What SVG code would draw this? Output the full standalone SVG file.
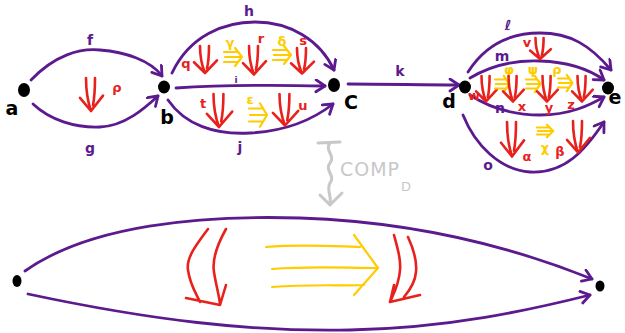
<svg xmlns="http://www.w3.org/2000/svg" xmlns:xlink="http://www.w3.org/1999/xlink" width="625" height="333" viewBox="0 0 625 333">
<style>
.e{fill:none;stroke:#5b1a8e;stroke-width:2.8;stroke-linecap:round;stroke-linejoin:round}
.r{fill:none;stroke:#e8211c;stroke-width:2.6;stroke-linecap:round;stroke-linejoin:round}
.y{fill:none;stroke:#ffcc00;stroke-width:2.2;stroke-linecap:round;stroke-linejoin:round}
.g{fill:none;stroke:#c8c8c8;stroke-width:3;stroke-linecap:round;stroke-linejoin:round}
.n{fill:#000}
text{font-family:"DejaVu Sans","Liberation Sans",sans-serif;text-anchor:middle}
.tn{font-size:19px;font-weight:bold;fill:#000}
.tp{font-size:14px;font-weight:bold;fill:#5b1a8e}
.tr{font-size:13px;font-weight:bold;fill:#e8211c}
.ty{font-size:13px;font-weight:bold;fill:#ffcc00}
</style>
<defs>
<marker id="ap" markerWidth="16" markerHeight="16" refX="11" refY="7" orient="auto" markerUnits="userSpaceOnUse">
<path d="M2,1 L11,7 L2,13" fill="none" stroke="#5b1a8e" stroke-width="2.8" stroke-linecap="round" stroke-linejoin="round"/>
</marker>
<g id="dbl">
<path class="r" vector-effect="non-scaling-stroke" d="M-5,0 C-5,12 -3,22 0,30 M4,0 C4,12 3,20 2,25 M-11,18 L0,30 L12,16"/>
</g>
<g id="tri">
<path class="y" vector-effect="non-scaling-stroke" d="M0,-5 L14,-5 M1,0 L17,0 M0,5 L14,5 M11,-9 L18,0 L11,9"/>
</g>
</defs>

<g id="connectors">
<path class="e" marker-end="url(#ap)" d="M31,80 C55,55 80,48 100,50 C125,52 150,60 162,76"/>
<path class="e" marker-end="url(#ap)" d="M33,104 C50,120 75,128 100,127 C125,126 145,108 158,96"/>
<path class="e" marker-end="url(#ap)" d="M172,73 C190,35 225,22 255,22 C290,22 320,40 334,70"/>
<path class="e" marker-end="url(#ap)" d="M176,88 C220,85 280,85 325,86"/>
<path class="e" marker-end="url(#ap)" d="M168,100 C185,125 215,135 250,133 C290,131 315,118 333,104"/>
<path class="e" marker-end="url(#ap)" d="M348,84 C390,84 420,85 459,85"/>
<path class="e" marker-end="url(#ap)" d="M468,72 C485,45 510,33 540,33 C570,33 590,45 611,70"/>
<path class="e" marker-end="url(#ap)" d="M470,78 C490,66 515,60 540,61 C570,62 590,70 604,80"/>
<path class="e" marker-end="url(#ap)" d="M470,95 C490,108 515,115 540,115 C570,115 590,105 604,97"/>
<path class="e" marker-end="url(#ap)" d="M463,115 C475,145 500,170 530,172 C565,174 585,150 604,122"/>
<path class="e" marker-end="url(#ap)" d="M25,271 C90,225 200,215 300,218 C420,222 520,250 592,279"/>
<path class="e" marker-end="url(#ap)" d="M28,294 C150,320 250,332 350,330 C450,328 530,310 590,295"/>
<text class="tp" x="90" y="45">f</text>
<text class="tp" x="90" y="153">g</text>
<text class="tp" x="249" y="16">h</text>
<text class="tp" x="236" y="83" style="font-size:9px">i</text>
<text class="tp" x="240" y="152">j</text>
<text class="tp" x="400" y="76">k</text>
<text class="tp" x="508" y="30">ℓ</text>
<text class="tp" x="502" y="61">m</text>
<text class="tp" x="500" y="113">n</text>
<text class="tp" x="488" y="170">o</text>
</g>

<g id="cells">
<use href="#dbl" transform="translate(91,78) scale(1,1.1)"/>
<text class="tr" x="117" y="92">ρ</text>

<text class="tr" x="186" y="68">q</text>
<use href="#dbl" transform="translate(205,46) scale(1,0.9)"/>
<use href="#tri" transform="translate(224,57)"/>
<text class="ty" x="230" y="47">γ</text>
<use href="#dbl" transform="translate(254,46) scale(1,0.95)"/>
<text class="tr" x="261" y="43">r</text>
<use href="#tri" transform="translate(273,55)"/>
<text class="ty" x="282" y="46">δ</text>
<use href="#dbl" transform="translate(302,48) scale(1,0.85)"/>
<text class="tr" x="303" y="45">s</text>

<text class="tr" x="203" y="108">t</text>
<use href="#dbl" transform="translate(219,94) scale(1.1,1.1)"/>
<use href="#tri" transform="translate(249,115) scale(1,1.3)"/>
<text class="ty" x="250" y="104">ε</text>
<use href="#dbl" transform="translate(285,94) scale(1.1,1.05)"/>
<text class="tr" x="303" y="110">u</text>

<use href="#dbl" transform="translate(540,38) scale(0.9,0.7)"/>
<text class="tr" x="527" y="47">v</text>
<use href="#dbl" transform="translate(486,76) scale(0.9,0.85)"/>
<text class="tr" x="474" y="100">w</text>
<use href="#tri" transform="translate(495,84) scale(0.8,0.9)"/>
<text class="ty" x="509" y="74">φ</text>
<use href="#dbl" transform="translate(513,76) scale(0.9,0.85)"/>
<text class="tr" x="522" y="111">x</text>
<use href="#tri" transform="translate(526,84) scale(0.8,0.9)"/>
<text class="ty" x="533" y="74">ψ</text>
<use href="#dbl" transform="translate(547,76) scale(0.9,0.85)"/>
<text class="tr" x="549" y="112">y</text>
<use href="#tri" transform="translate(558,83) scale(0.8,0.9)"/>
<text class="ty" x="557" y="74">ρ</text>
<use href="#dbl" transform="translate(582,76) scale(0.9,0.85)"/>
<text class="tr" x="571" y="109">z</text>

<use href="#dbl" transform="translate(512,122) scale(1,1.15)"/>
<text class="tr" x="527" y="161">α</text>
<use href="#tri" transform="translate(537,131) scale(0.9,0.7)"/>
<text class="ty" x="545" y="152">χ</text>
<text class="tr" x="560" y="156">β</text>
<use href="#dbl" transform="translate(578,121) scale(1,1.05)"/>

<path class="r" d="M208,229 C196,245 186,258 188,270 C190,285 196,293 200,302 M226,229 C217,245 212,260 214,272 C216,285 219,295 220,304 M186,298 L220,305 L226,285"/>
<path class="r" d="M394,235 C398,250 401,260 400,270 C399,285 393,295 390,302 M408,237 C414,250 417,262 416,272 C415,283 410,290 404,297 M394,285 L390,302 L420,295"/>
<path class="y" d="M266,247 C300,244 330,246 360,247 M272,269 C310,266 345,268 376,268 M272,287 C310,284 340,286 364,285 M354,235 L378,268 L354,295"/>
</g>

<g id="compD">
<path class="g" d="M318,143 L340,142 M330,143 C324,150 336,156 330,163 C324,170 336,176 330,183 C326,190 332,196 330,203 M320,195 L330,205 L342,193"/>
<text x="370" y="176" style="font-size:19px;fill:#c8c8c8;letter-spacing:1px">COMP</text>
<text x="406" y="191" style="font-size:13px;fill:#c8c8c8">D</text>
</g>

<g id="node-a"><ellipse class="n" cx="24" cy="90" rx="6" ry="7"/><text class="tn" x="12" y="115">a</text></g>
<g id="node-b"><ellipse class="n" cx="164" cy="87" rx="6" ry="6.5"/><text class="tn" x="167" y="124">b</text></g>
<g id="node-c"><ellipse class="n" cx="334" cy="85" rx="6" ry="7"/><text class="tn" x="351" y="109">C</text></g>
<g id="node-d"><ellipse class="n" cx="465" cy="87" rx="6" ry="6.5"/><text class="tn" x="449" y="108">d</text></g>
<g id="node-e"><ellipse class="n" cx="608" cy="88" rx="6" ry="6.5"/><text class="tn" x="615" y="104">e</text></g>
<g id="node-left"><ellipse class="n" cx="17" cy="281" rx="4.5" ry="6"/></g>
<g id="node-right"><ellipse class="n" cx="600" cy="286" rx="4.5" ry="5.5"/></g>
</svg>
